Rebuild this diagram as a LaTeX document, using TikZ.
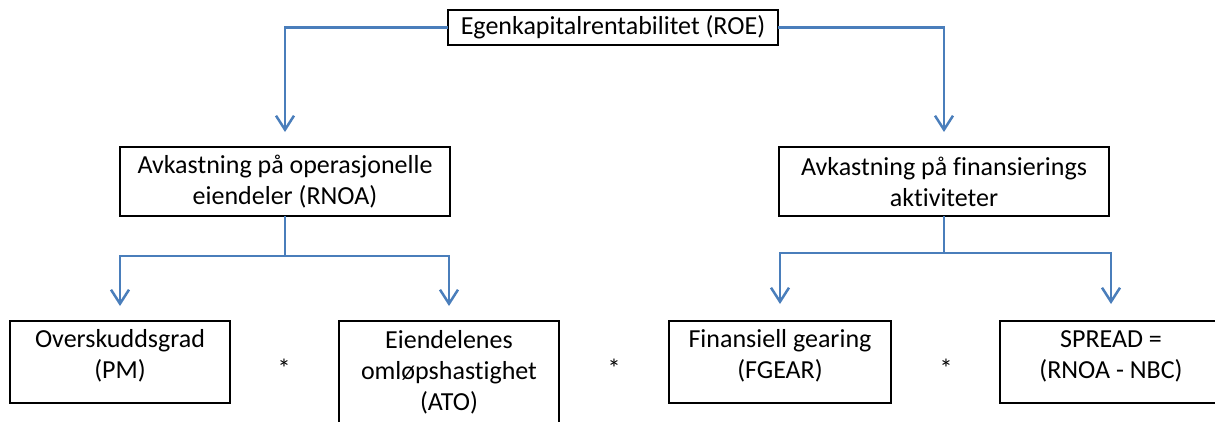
\documentclass[tikz,border=0pt]{standalone}
\usepackage{fontspec}
\setmainfont{Carlito}[Ligatures=NoCommon]
\usetikzlibrary{arrows.meta,calc}
\definecolor{lineblue}{RGB}{74,126,187}
\begin{document}
\begin{tikzpicture}[x=1pt,y=-1pt,
  box/.style={draw=black, line width=2pt, inner sep=0pt, outer sep=0pt, anchor=north west},
  txt/.style={font=\fontsize{26}{31}\selectfont, align=center, inner sep=0pt},
  conn/.style={draw=lineblue, line width=2.5pt, -{Straight Barb[length=14pt,width=18pt]}}]
\useasboundingbox (0,0) rectangle (1215,421);
\clip (0,0) rectangle (1215,421);
% boxes
\node[box, minimum width=330pt, minimum height=35pt] (roe) at (448,10) {};
\node[box, minimum width=330pt, minimum height=69pt] (rnoa) at (120,147) {};
\node[box, minimum width=330pt, minimum height=69pt] (fin) at (779,147) {};
\node[box, minimum width=220pt, minimum height=82pt] (pm) at (10,321) {};
\node[box, minimum width=220pt, minimum height=130pt] (ato) at (339,321) {};
\node[box, minimum width=222pt, minimum height=82pt] (fgear) at (669,321) {};
\node[box, minimum width=222pt, minimum height=82pt] (spread) at (1000,321) {};
% texts
\node[txt] (troe) at (613,27.5) {Egenkapitalrentabilitet (ROE)};
\node[txt] (trnoa) at (285,182) {Avkastning på operasjonelle\\eiendeler (RNOA)};
\node[txt] (tfin) at (944,182) {Avkastning på finansierings\\aktiviteter};
\node[txt] (tpm) at (120,356) {Overskuddsgrad\\(PM)};
\node[txt] (tato) at (449,372) {Eiendelenes\\omløpshastighet\\(ATO)};
\node[txt] (tfgear) at (780,356) {Finansiell gearing\\(FGEAR)};
\node[txt] (tspread) at (1111,356) {SPREAD =\\(RNOA - NBC)};
\node[txt] (s1) at (284,368) {*};
\node[txt] (s2) at (614,368) {*};
\node[txt] (s3) at (946,368) {*};
% target points
\coordinate (arnoa) at ($(rnoa.north)+(0,-15)$);
\coordinate (afin) at ($(fin.north)+(0,-15)$);
\coordinate (apm) at ($(pm.north)+(0,-15)$);
\coordinate (aato) at ($(ato.north)+(0,-15)$);
\coordinate (afgear) at ($(fgear.north)+(0,-17)$);
\coordinate (aspread) at ($(spread.north)+(0,-17)$);
% connectors
\draw[conn] (roe.west) -| (arnoa);
\draw[conn] (roe.east) -| (afin);
\draw[conn] (rnoa.south) -- ++(0,40) -| (apm);
\draw[conn] (rnoa.south) -- ++(0,40) -| (aato);
\draw[conn] (fin.south) -- ++(0,37) -| (afgear);
\draw[conn] (fin.south) -- ++(0,37) -| (aspread);
\end{tikzpicture}
\end{document}
